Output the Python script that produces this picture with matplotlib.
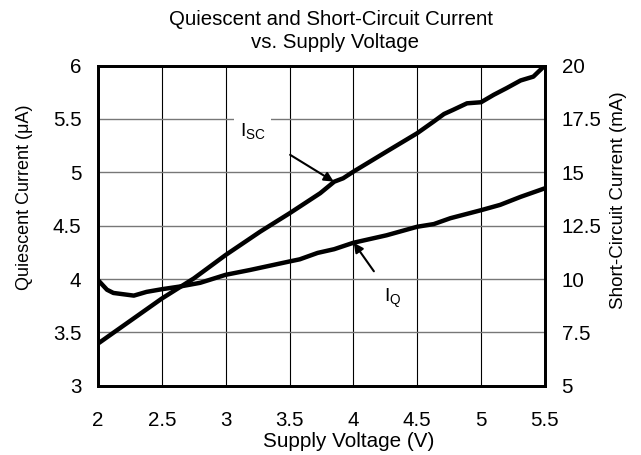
import matplotlib
matplotlib.use("Agg")
import matplotlib.pyplot as plt

plt.rcParams['font.family'] = ['Liberation Sans', 'DejaVu Sans']

# supply voltage (V) and quiescent current (uA)
v_q = [2.0, 2.07, 2.12, 2.28, 2.38, 2.5, 2.64, 2.8, 3.0, 3.19, 3.5, 3.58,
       3.72, 3.85, 4.0, 4.26, 4.5, 4.63, 4.76, 5.0, 5.15, 5.31, 5.5]
iq = [3.99, 3.90, 3.87, 3.845, 3.88, 3.905, 3.93, 3.965, 4.04, 4.085, 4.165, 4.185,
      4.245, 4.28, 4.34, 4.41, 4.49, 4.515, 4.57, 4.645, 4.695, 4.77, 4.85]

# supply voltage (V) and short-circuit current (mA)
v_sc = [2.0, 2.5, 2.75, 3.0, 3.27, 3.5, 3.74, 3.85, 3.92, 4.0, 4.26, 4.5,
        4.63, 4.71, 4.78, 4.89, 5.0, 5.1, 5.2, 5.31, 5.41, 5.5]
isc = [6.98, 9.09, 10.03, 11.13, 12.22, 13.08, 14.02, 14.56, 14.72, 15.03, 15.97, 16.83,
       17.38, 17.73, 17.92, 18.23, 18.28, 18.63, 18.94, 19.30, 19.48, 20.0]

x_ticks = [2, 2.5, 3, 3.5, 4, 4.5, 5, 5.5]
y_ticks = [3, 3.5, 4, 4.5, 5, 5.5, 6]
y2_ticks = [5, 7.5, 10, 12.5, 15, 17.5, 20]

fig = plt.figure(figsize=(6.41, 4.55), dpi=100)
ax = fig.add_axes([0.153, 0.152, 0.697, 0.704])
ax2 = ax.twinx()

ax.set_xlim(2, 5.5)
ax.set_ylim(3, 6)
ax2.set_ylim(5, 20)

ax.set_xticks(x_ticks)
ax.set_xticklabels([f"{t:g}" for t in x_ticks])
ax.set_yticks(y_ticks)
ax.set_yticklabels([f"{t:g}" for t in y_ticks])
ax2.set_yticks(y2_ticks)
ax2.set_yticklabels([f"{t:g}" for t in y2_ticks])

ax.xaxis.grid(True, color='black', lw=0.8)
ax.yaxis.grid(True, color='#777777', lw=1.0)
ax.set_axisbelow(True)

for a in (ax, ax2):
    a.tick_params(length=0, labelsize=14.8, colors='black', pad=12)
    for s in a.spines.values():
        s.set_linewidth(2)
ax.tick_params(axis='x', pad=18)

ax.plot(v_q, iq, color='black', lw=3.2, solid_capstyle='butt')
ax2.plot(v_sc, isc, color='black', lw=3.2, solid_capstyle='butt')

ax.annotate("I$_{\\mathregular{SC}}$", xy=(3.846, 4.913), xytext=(3.21, 5.38),
            fontsize=14, ha='center', va='center',
            bbox=dict(facecolor='white', edgecolor='none', pad=4),
            arrowprops=dict(arrowstyle='-|>', color='black', lw=1.5,
                            mutation_scale=14, shrinkA=16, shrinkB=0))
ax.annotate("I$_{\\mathregular{Q}}$", xy=(4.003, 4.34), xytext=(4.31, 3.82),
            fontsize=14, ha='center', va='center',
            arrowprops=dict(arrowstyle='-|>', color='black', lw=1.5,
                            mutation_scale=14, shrinkA=11, shrinkB=0))

ax.set_xlabel("Supply Voltage (V)", fontsize=14.9)
ax.xaxis.set_label_coords(0.561, -0.145)
ax.set_ylabel("Quiescent Current (\u03bcA)", fontsize=13)
ax.yaxis.set_label_coords(-0.145, 0.5875)
ax2.set_ylabel("Short-Circuit Current (mA)", fontsize=13.5)
ax2.yaxis.set_label_coords(1.145, 0.58)

fig.text(0.516, 0.945, "Quiescent and Short-Circuit Current",
         fontsize=14.7, ha='center', va='baseline')
fig.text(0.523, 0.894, "vs. Supply Voltage",
         fontsize=14.7, ha='center', va='baseline')

fig.savefig("out.png", dpi=100)
